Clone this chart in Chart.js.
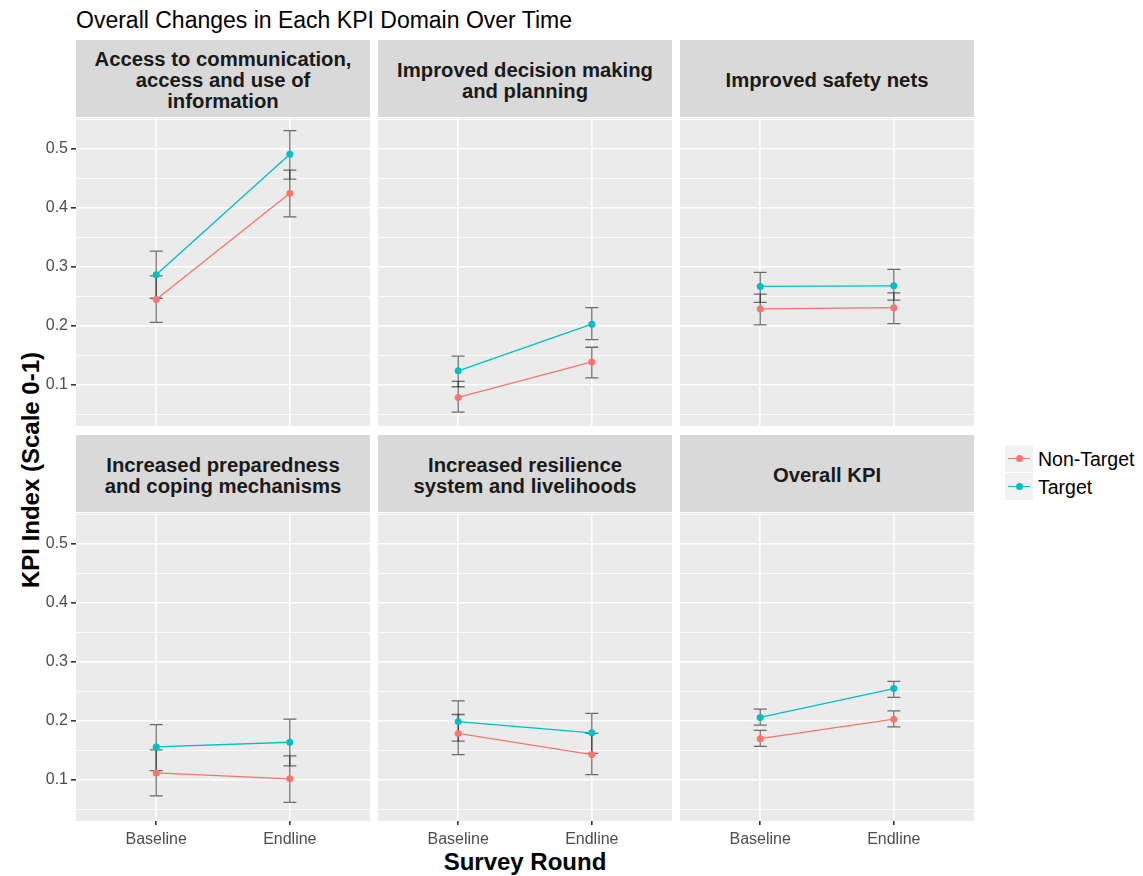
<!DOCTYPE html>
<html>
<head>
<meta charset="utf-8">
<script src="https://cdn.jsdelivr.net/npm/chart.js@4.4.1/dist/chart.umd.min.js"></script>
<style>
  body { margin: 0; background: #fff; font-family: 'Liberation Sans', Arial, sans-serif; }
  #wrap { position: relative; width: 1143px; height: 876px; overflow: hidden; }
  .strip { position: absolute; background: #D9D9D9; color: #1A1A1A; font-weight: bold; font-size: 20.3px;
           line-height: 21px; display: flex; align-items: center; justify-content: center; text-align: center;
           box-sizing: border-box; padding-top: 4px; }
  canvas { position: absolute; }
  .txt { position: absolute; white-space: nowrap; }
</style>
</head>
<body>
<div id="wrap">
  <div class="txt" style="left:76px; top:9px; font-size:23px; line-height:23px; color:#000;">Overall Changes in Each KPI Domain Over Time</div>
  <div class="txt" style="left:31px; top:470px; width:400px; text-align:center; font-size:24px; line-height:24px; font-weight:bold; color:#000; transform:translate(-50%,-50%) rotate(-90deg);">KPI Index (Scale 0-1)</div>
  <div class="txt" style="left:525px; top:850px; width:400px; margin-left:-200px; text-align:center; font-size:24px; line-height:24px; font-weight:bold; color:#000;">Survey Round</div>
  <div id="legend"></div>
</div>
<script>
// facetas: dominios do KPI
var domains = [
  'Access to communication,<br>access and use of<br>information',
  'Improved decision making<br>and planning',
  'Improved safety nets',
  'Increased preparedness<br>and coping mechanisms',
  'Increased resilience<br>system and livelihoods',
  'Overall KPI'
];
var rounds = ['Baseline', 'Endline'];
var groups = ['Non-Target', 'Target'];
var colors = ['#F8766D', '#00BFC4'];

// medias e intervalos [Baseline, Endline] por dominio
var nonTargetMean = [[0.245, 0.425], [0.079, 0.139], [0.229, 0.231], [0.112, 0.102], [0.179, 0.143], [0.170, 0.203]];
var nonTargetLow  = [[0.206, 0.385], [0.054, 0.112], [0.202, 0.204], [0.073, 0.062], [0.143, 0.109], [0.157, 0.190]];
var nonTargetHigh = [[0.285, 0.464], [0.106, 0.164], [0.254, 0.256], [0.151, 0.141], [0.211, 0.179], [0.184, 0.217]];
var targetMean = [[0.287, 0.491], [0.124, 0.203], [0.267, 0.268], [0.156, 0.164], [0.199, 0.180], [0.206, 0.255]];
var targetLow  = [[0.247, 0.449], [0.097, 0.177], [0.240, 0.244], [0.116, 0.124], [0.166, 0.145], [0.193, 0.240]];
var targetHigh = [[0.327, 0.531], [0.149, 0.231], [0.291, 0.296], [0.194, 0.203], [0.234, 0.213], [0.220, 0.267]];

var yMajor = [0.1, 0.2, 0.3, 0.4, 0.5];
var yMinor = [0.05, 0.15, 0.25, 0.35, 0.45, 0.55];
var yMin = 0.0305, yMax = 0.5525;

// layout dos paineis
var colLeft = [76, 378, 680];
var panelW = 294;
var stripTop = [40, 435];
var stripH = 77;
var plotTop = [118, 513];
var plotH = 308;
var fontFam = "'Liberation Sans', Arial, sans-serif";

var wrap = document.getElementById('wrap');

// fundo cinza do painel
var panelBg = {
  id: 'panelBg',
  beforeDraw: function (chart) {
    var a = chart.chartArea, ctx = chart.ctx;
    ctx.save();
    ctx.fillStyle = '#EBEBEB';
    ctx.fillRect(a.left, a.top, a.width, a.height);
    ctx.restore();
  }
};

// barras de erro
var errorBars = {
  id: 'errorBars',
  beforeDatasetsDraw: function (chart) {
    var ctx = chart.ctx, x = chart.scales.x, y = chart.scales.y;
    ctx.save();
    ctx.strokeStyle = 'rgba(0,0,0,0.55)';
    ctx.lineWidth = 1.3;
    chart.data.datasets.forEach(function (ds) {
      ds.data.forEach(function (p) {
        var px = x.getPixelForValue(p.x);
        var lo = y.getPixelForValue(p.lo);
        var hi = y.getPixelForValue(p.hi);
        ctx.beginPath();
        ctx.moveTo(px, lo); ctx.lineTo(px, hi);
        ctx.moveTo(px - 6.5, lo); ctx.lineTo(px + 6.5, lo);
        ctx.moveTo(px - 6.5, hi); ctx.lineTo(px + 6.5, hi);
        ctx.stroke();
      });
    });
    ctx.restore();
  }
};

function isMajor(v) {
  return yMajor.some(function (m) { return Math.abs(m - v) < 1e-6; });
}

function makeSeries(mean, low, high, i) {
  return rounds.map(function (r, j) {
    return { x: j + 1, y: mean[i][j], lo: low[i][j], hi: high[i][j] };
  });
}

for (var i = 0; i < domains.length; i++) {
  var r = Math.floor(i / 3), c = i % 3;
  var left = (c === 0);
  var bottom = (r === 1);

  var strip = document.createElement('div');
  strip.className = 'strip';
  strip.style.left = colLeft[c] + 'px';
  strip.style.top = stripTop[r] + 'px';
  strip.style.width = panelW + 'px';
  strip.style.height = stripH + 'px';
  strip.innerHTML = domains[i];
  wrap.appendChild(strip);

  var cv = document.createElement('canvas');
  var cw = left ? colLeft[0] + panelW : panelW;
  var ch = plotH + (bottom ? 40 : 0);
  cv.width = cw; cv.height = ch;
  cv.style.left = (left ? 0 : colLeft[c]) + 'px';
  cv.style.top = plotTop[r] + 'px';
  cv.style.width = cw + 'px'; cv.style.height = ch + 'px';
  wrap.appendChild(cv);

  (function (left, bottom) {
    new Chart(cv.getContext('2d'), {
      type: 'line',
      data: {
        datasets: [
          {
            label: groups[0],
            data: makeSeries(nonTargetMean, nonTargetLow, nonTargetHigh, i),
            borderColor: colors[0], backgroundColor: colors[0],
            borderWidth: 1.3, pointRadius: 3.5, pointBorderWidth: 0
          },
          {
            label: groups[1],
            data: makeSeries(targetMean, targetLow, targetHigh, i),
            borderColor: colors[1], backgroundColor: colors[1],
            borderWidth: 1.3, pointRadius: 3.5, pointBorderWidth: 0
          }
        ]
      },
      options: {
        responsive: false,
        animation: false,
        devicePixelRatio: 1,
        layout: { padding: 0, autoPadding: false },
        plugins: { legend: { display: false }, tooltip: { enabled: false } },
        scales: {
          x: {
            type: 'linear', min: 0.4, max: 2.6,
            afterBuildTicks: function (s) { s.ticks = rounds.map(function (r, j) { return { value: j + 1 }; }); },
            afterFit: function (s) {
              s.height = bottom ? 40 : 0;
              s.paddingLeft = 0; s.paddingRight = 0;
            },
            ticks: {
              display: bottom, autoSkip: false, maxRotation: 0, padding: 5,
              color: '#4D4D4D', font: { family: fontFam, size: 16 },
              callback: function (v) { return rounds[Math.round(v) - 1]; }
            },
            grid: { color: '#FFFFFF', lineWidth: 1.6, drawTicks: bottom, tickLength: 4, tickColor: '#333333' },
            border: { display: false }
          },
          y: {
            type: 'linear', min: yMin, max: yMax,
            afterBuildTicks: function (s) {
              s.ticks = yMinor.concat(yMajor).sort(function (a, b) { return a - b; })
                .map(function (v) { return { value: v }; });
            },
            afterFit: function (s) {
              s.width = left ? colLeft[0] : 0;
              s.paddingTop = 0; s.paddingBottom = 0;
            },
            ticks: {
              display: left, autoSkip: false, padding: 3,
              color: '#4D4D4D', font: { family: fontFam, size: 16 },
              callback: function (v) { return isMajor(v) ? v.toFixed(1) : ''; }
            },
            grid: {
              color: '#FFFFFF',
              lineWidth: function (ctx) { return ctx.tick && isMajor(ctx.tick.value) ? 1.6 : 0.8; },
              drawTicks: left, tickLength: 5,
              tickColor: function (ctx) { return ctx.tick && isMajor(ctx.tick.value) ? '#333333' : 'rgba(0,0,0,0)'; }
            },
            border: { display: false }
          }
        }
      },
      plugins: [panelBg, errorBars]
    });
  })(left, bottom);
}

// legenda
var legend = document.getElementById('legend');
groups.forEach(function (g, k) {
  var top = 445 + k * 28;
  var key = document.createElement('div');
  key.style.cssText = 'position:absolute;left:1005px;top:' + top + 'px;width:28px;height:27px;background:#F2F2F2;';
  key.innerHTML = '<div style="position:absolute;left:3px;top:13px;width:22px;height:1.3px;background:' + colors[k] + ';"></div>' +
    '<div style="position:absolute;left:10.5px;top:10px;width:7px;height:7px;border-radius:50%;background:' + colors[k] + ';"></div>';
  wrap.appendChild(key);
  var lbl = document.createElement('div');
  lbl.className = 'txt';
  lbl.style.cssText += 'left:1038px;top:' + (top + 4) + 'px;font-size:19.5px;line-height:20px;color:#000;';
  lbl.textContent = g;
  wrap.appendChild(lbl);
});
</script>
</body>
</html>
